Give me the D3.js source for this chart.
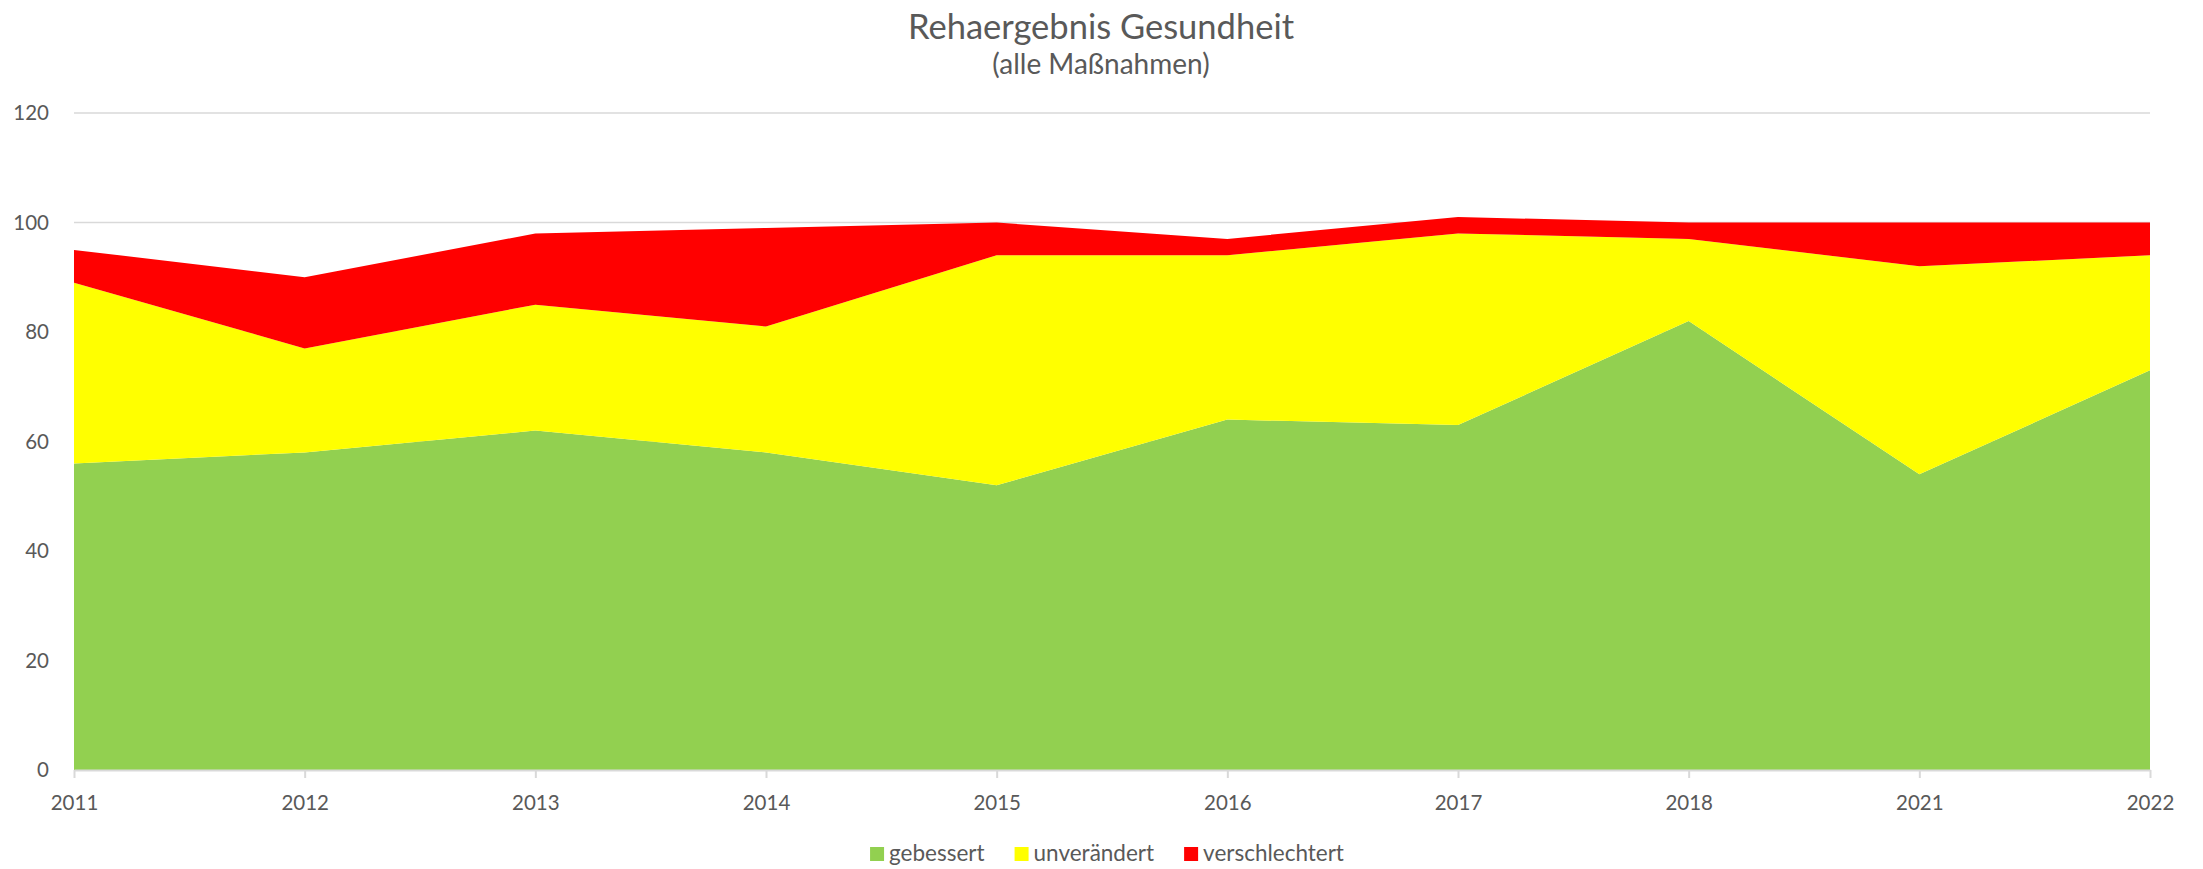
<!DOCTYPE html>
<html>
<head>
<meta charset="utf-8">
<script src="https://cdn.jsdelivr.net/npm/d3@7"></script>
<style>
  html, body { margin: 0; padding: 0; background: #fff; }
  svg { display: block; }
  text { font-family: Lato, "Open Sans", sans-serif; fill: #595959; }
</style>
</head>
<body>
<svg id="chart" width="2203" height="869"></svg>
<script>
const years = ["2011","2012","2013","2014","2015","2016","2017","2018","2021","2022"];
const gebessert      = [56, 58, 62, 58, 52, 64, 63, 82, 54, 73];
const unveraendert   = [33, 19, 23, 23, 42, 30, 35, 15, 38, 21];
const verschlechtert = [ 6, 13, 13, 18,  6,  3,  3,  3,  8,  6];
const seriesNames  = ["gebessert", "unverändert", "verschlechtert"];
const seriesKeys   = ["geb", "unv", "ver"];
const seriesColors = ["#92D050", "#FFFF00", "#FF0000"];
const yTicks = [0, 20, 40, 60, 80, 100, 120];
const titleText = "Rehaergebnis Gesundheit";
const subtitleText = "(alle Maßnahmen)";

const W = 2203, H = 869;
const margin = {left: 74, right: 53, top: 113, bottom: 99};
const svg = d3.select("#chart");

const table = years.map((y, i) => ({year: y, geb: gebessert[i], unv: unveraendert[i], ver: verschlechtert[i]}));
const stack = d3.stack().keys(seriesKeys)(table);

const x = d3.scalePoint().domain(years).range([margin.left, W - margin.right]);
const y = d3.scaleLinear().domain([0, 120]).range([H - margin.bottom, margin.top]);

// gridlines
svg.append("g").selectAll("line").data(yTicks.filter(d => d > 0)).join("line")
  .attr("x1", margin.left).attr("x2", W - margin.right)
  .attr("y1", d => y(d)).attr("y2", d => y(d))
  .attr("stroke", "#d9d9d9").attr("stroke-width", 1.5);

// areas
const area = d3.area()
  .x(d => x(d.data.year))
  .y0(d => y(d[0]))
  .y1(d => y(d[1]));
svg.append("g").selectAll("path").data(stack).join("path")
  .attr("d", area)
  .attr("fill", (d, i) => seriesColors[i]);

// x axis
const xAxis = d3.axisBottom(x).tickSize(8).tickPadding(17).tickSizeOuter(0);
const gx = svg.append("g").attr("transform", `translate(0,${H - margin.bottom})`).call(xAxis);
gx.select(".domain").attr("stroke", "#d9d9d9").attr("stroke-width", 2);
gx.selectAll(".tick line").attr("stroke", "#d9d9d9").attr("stroke-width", 2);
gx.selectAll(".tick text").attr("font-size", 20.5).attr("font-family", "Lato").attr("fill", "#595959");

// y axis labels
const yAxis = d3.axisLeft(y).tickValues(yTicks).tickSize(0).tickPadding(25);
const gy = svg.append("g").attr("transform", `translate(${margin.left},0)`).call(yAxis);
gy.select(".domain").remove();
gy.selectAll(".tick text").attr("font-size", 20.5).attr("font-family", "Lato").attr("fill", "#595959");

// title
svg.append("text").attr("x", 1101).attr("y", 39).attr("text-anchor", "middle")
  .attr("font-size", 34.5).text(titleText);
svg.append("text").attr("x", 1101).attr("y", 74).attr("text-anchor", "middle")
  .attr("font-size", 28).text(subtitleText);

// legend
const lg = svg.append("g");
let cx = 0;
seriesNames.forEach((name, i) => {
  const g = lg.append("g");
  g.append("rect").attr("x", 0).attr("y", -14).attr("width", 14).attr("height", 14).attr("fill", seriesColors[i]);
  const t = g.append("text").attr("x", 19).attr("y", 0).attr("font-size", 22.5).text(name);
  const w = 19 + t.node().getComputedTextLength();
  g.attr("transform", `translate(${cx},0)`);
  cx += w + 30;
});
const total = cx - 30;
lg.attr("transform", `translate(${1107 - total / 2},861)`);
</script>
</body>
</html>
